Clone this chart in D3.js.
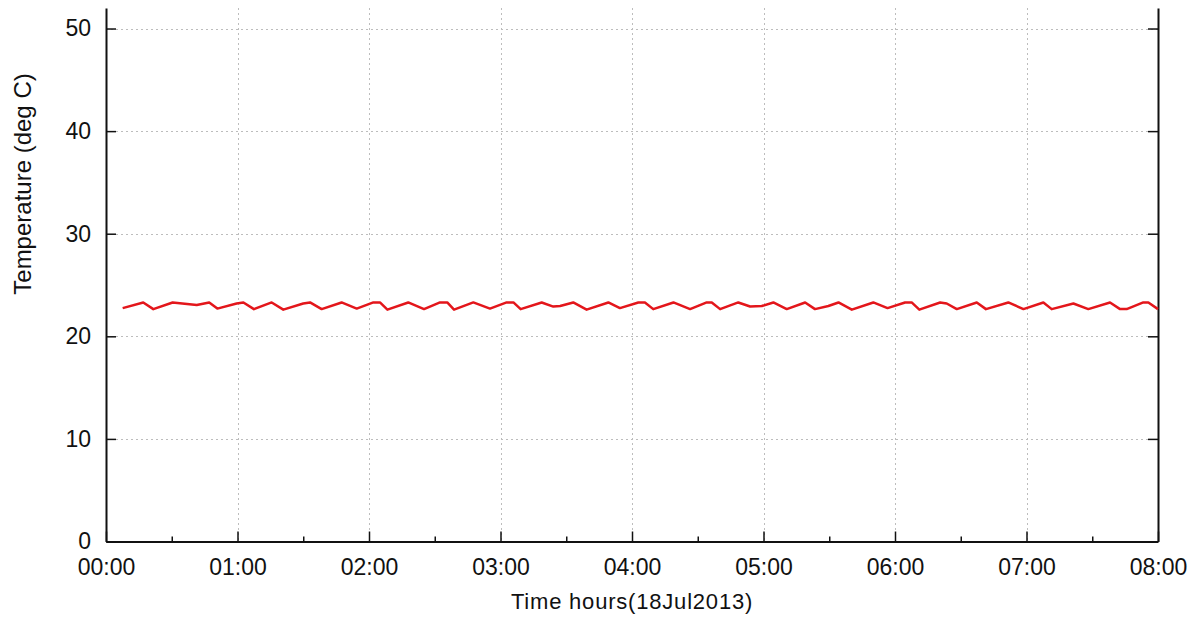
<!DOCTYPE html>
<html>
<head>
<meta charset="utf-8">
<script src="https://cdn.jsdelivr.net/npm/d3@7"></script>
<style>
  html, body { margin: 0; padding: 0; background: #fff; }
  svg { display: block; font-family: "Liberation Sans", Arial, Helvetica, sans-serif; }
</style>
</head>
<body>
<svg id="chart" width="1197" height="617"></svg>
<script>
// Sample times, minutes after 00:00 on 18 Jul 2013
const minutes = [7.6, 17.0, 21.6, 30.4, 41.4, 47.1, 50.8, 59.6, 62.7, 67.5, 75.6, 80.9, 90.0, 93.1, 98.4,
  107.5, 114.4, 122.0, 125.0, 128.4, 137.9, 145.1, 152.4, 155.7, 158.8, 167.6, 175.2, 182.8, 185.9, 189.2,
  198.8, 204.1, 207.2, 213.2, 219.3, 229.2, 234.5, 242.9, 245.9, 249.7, 258.9, 266.5, 274.1, 276.4, 280.2,
  288.5, 293.9, 299.2, 304.5, 310.6, 319.0, 323.5, 329.6, 334.2, 340.3, 350.1, 356.6, 364.6, 367.6, 371.1,
  380.6, 383.6, 388.2, 397.3, 401.5, 411.7, 418.6, 427.7, 431.5, 441.4, 448.2, 458.1, 462.7, 465.7, 473.3,
  475.6, 480.0];
// Temperature (deg C)
const temps = [22.75, 23.3, 22.65, 23.3, 23.05, 23.3, 22.7, 23.2, 23.3, 22.65, 23.3, 22.6, 23.2, 23.3, 22.65,
  23.3, 22.7, 23.3, 23.3, 22.6, 23.3, 22.65, 23.3, 23.3, 22.6, 23.3, 22.7, 23.3, 23.3, 22.65,
  23.3, 22.9, 22.95, 23.3, 22.6, 23.3, 22.75, 23.3, 23.3, 22.65, 23.3, 22.65, 23.3, 23.3, 22.65,
  23.3, 22.9, 22.95, 23.3, 22.65, 23.3, 22.65, 22.95, 23.3, 22.6, 23.3, 22.75, 23.3, 23.3, 22.6,
  23.3, 23.2, 22.65, 23.3, 22.65, 23.3, 22.65, 23.3, 22.65, 23.2, 22.65, 23.3, 22.65, 22.65, 23.3,
  23.3, 22.65];
const xTickLabels = ["00:00","01:00","02:00","03:00","04:00","05:00","06:00","07:00","08:00"];
const yTickValues = [0, 10, 20, 30, 40, 50];
const xTitle = "Time hours(18Jul2013)";
const yTitle = "Temperature (deg C)";

const base = new Date(2013, 6, 18, 0, 0, 0);
const toDate = m => new Date(base.getTime() + m * 60000);
const data = minutes.map((m, i) => ({ t: toDate(m), v: temps[i] }));

const margin = { left: 106, right: 1197 - 1158, top: 8, bottom: 617 - 541.5 };
const W = 1197, H = 617;
const svg = d3.select("#chart");

const x = d3.scaleTime().domain([base, toDate(480)]).range([margin.left, W - margin.right]);
const y = d3.scaleLinear().domain([0, 52]).range([H - margin.bottom, margin.top]);

const hourTicks = xTickLabels.map((_, i) => toDate(i * 60));
const halfTicks = d3.range(0, 8).map(i => toDate(i * 60 + 30));

// Grid
const grid = svg.append("g").attr("stroke", "#bdbdbd").attr("stroke-width", 1).attr("stroke-dasharray", "2,3");
grid.selectAll(".gx").data(hourTicks.slice(1, -1)).join("line")
  .attr("x1", d => Math.round(x(d)) + 0.5).attr("x2", d => Math.round(x(d)) + 0.5)
  .attr("y1", y(52)).attr("y2", y(0));
grid.selectAll(".gy").data(yTickValues.slice(1)).join("line")
  .attr("y1", d => Math.round(y(d)) + 0.5).attr("y2", d => Math.round(y(d)) + 0.5)
  .attr("x1", x.range()[0]).attr("x2", x.range()[1]);

// Axes (inward ticks)
const fmt = (d, i) => xTickLabels[i];
const xAxis = svg.append("g").attr("transform", `translate(0,${y(0)})`)
  .call(d3.axisBottom(x).tickValues(hourTicks).tickFormat(fmt).tickSizeInner(-10).tickSizeOuter(0).tickPadding(33));
svg.append("g").attr("transform", `translate(0,${y(0)})`)
  .call(d3.axisBottom(x).tickValues(halfTicks).tickFormat("").tickSizeInner(-5).tickSizeOuter(0))
  .call(g => g.select(".domain").remove());
const yAxisL = svg.append("g").attr("transform", `translate(${x.range()[0]},0)`)
  .call(d3.axisLeft(y).tickValues(yTickValues).tickSizeInner(-10).tickSizeOuter(0).tickPadding(15));
const yAxisR = svg.append("g").attr("transform", `translate(${x.range()[1]},0)`)
  .call(d3.axisRight(y).tickValues(yTickValues).tickFormat("").tickSizeInner(-10).tickSizeOuter(0));

svg.selectAll(".domain").attr("stroke", "#111").attr("stroke-width", 2);
svg.selectAll(".tick line").attr("stroke", "#111").attr("stroke-width", 1.5);
svg.selectAll(".tick text").attr("font-size", 23).attr("fill", "#111")
  .attr("font-family", "'Liberation Sans', Arial, sans-serif");
xAxis.selectAll(".tick text").attr("dy", "0");

// Line
const line = d3.line().x(d => x(d.t)).y(d => y(d.v));
svg.append("path").datum(data).attr("d", line)
  .attr("fill", "none").attr("stroke", "#e3161b").attr("stroke-width", 2.5).attr("stroke-linejoin", "round");

// Titles
svg.append("text").attr("x", (x.range()[0] + x.range()[1]) / 2).attr("y", 609)
  .attr("text-anchor", "middle").attr("font-size", 22).attr("letter-spacing", 0.8)
  .attr("fill", "#111").text(xTitle);
svg.append("text").attr("transform", `translate(31,184) rotate(-90)`)
  .attr("text-anchor", "middle").attr("font-size", 24).attr("fill", "#111").text(yTitle);
</script>
</body>
</html>
